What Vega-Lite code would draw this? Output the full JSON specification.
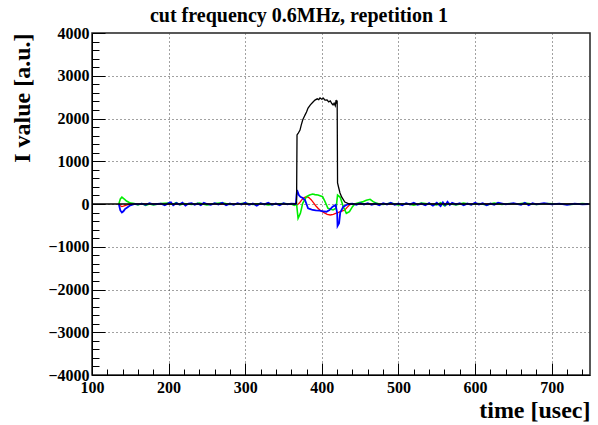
{
  "$schema": "https://vega.github.io/schema/vega-lite/v6.json",
  "width": 498,
  "height": 342,
  "autosize": {"type": "none"},
  "padding": {"left": 92, "top": 33, "right": 8, "bottom": 50},
  "background": "white",
  "title": {
    "text": "cut frequency 0.6MHz, repetition 1",
    "font": "Liberation Serif",
    "fontWeight": "bold",
    "fontSize": 20,
    "anchor": "middle",
    "dx": -42,
    "offset": -1,
    "color": "black"
  },
  "config": {
    "view": {"stroke": "#222", "strokeWidth": 1.5},
    "axis": {
      "labelFont": "Liberation Serif",
      "labelFontWeight": "bold",
      "labelFontSize": 16,
      "labelColor": "black",
      "titleFont": "Liberation Serif",
      "titleFontWeight": "bold",
      "titleFontSize": 24,
      "titleColor": "black",
      "domainColor": "black",
      "domainWidth": 1,
      "tickColor": "black",
      "tickWidth": 1,
      "gridColor": "#444",
      "gridDash": [1, 3],
      "gridWidth": 1
    }
  },
  "data": {
    "values": [
      {"s": "black", "t": 100, "v": 0},
      {"s": "black", "t": 365, "v": 0},
      {"s": "black", "t": 367, "v": 20},
      {"s": "black", "t": 367.6, "v": 1614},
      {"s": "black", "t": 369, "v": 1650},
      {"s": "black", "t": 371.5, "v": 1730},
      {"s": "black", "t": 373, "v": 1840},
      {"s": "black", "t": 375, "v": 1965},
      {"s": "black", "t": 378, "v": 2080},
      {"s": "black", "t": 380, "v": 2150},
      {"s": "black", "t": 382, "v": 2245},
      {"s": "black", "t": 385, "v": 2320},
      {"s": "black", "t": 388.5, "v": 2386},
      {"s": "black", "t": 391, "v": 2430},
      {"s": "black", "t": 394, "v": 2460},
      {"s": "black", "t": 396, "v": 2440},
      {"s": "black", "t": 397.6, "v": 2480},
      {"s": "black", "t": 400, "v": 2450},
      {"s": "black", "t": 402, "v": 2475},
      {"s": "black", "t": 404, "v": 2430},
      {"s": "black", "t": 406.8, "v": 2433},
      {"s": "black", "t": 409, "v": 2390},
      {"s": "black", "t": 411, "v": 2410},
      {"s": "black", "t": 413, "v": 2350},
      {"s": "black", "t": 414.6, "v": 2316},
      {"s": "black", "t": 416, "v": 2360},
      {"s": "black", "t": 417.5, "v": 2300},
      {"s": "black", "t": 418.6, "v": 2433},
      {"s": "black", "t": 419.5, "v": 2350},
      {"s": "black", "t": 420, "v": 2420},
      {"s": "black", "t": 420.5, "v": 491},
      {"s": "black", "t": 422, "v": 380},
      {"s": "black", "t": 423.7, "v": 257},
      {"s": "black", "t": 426, "v": 160},
      {"s": "black", "t": 430, "v": 47},
      {"s": "black", "t": 436, "v": 0},
      {"s": "black", "t": 750, "v": 0},

      {"s": "red", "t": 135, "v": 0},
      {"s": "red", "t": 137, "v": -40},
      {"s": "red", "t": 139, "v": -60},
      {"s": "red", "t": 141, "v": -50},
      {"s": "red", "t": 144, "v": -30},
      {"s": "red", "t": 148, "v": -10},
      {"s": "red", "t": 152, "v": 0},
      {"s": "red", "t": 250, "v": 0},
      {"s": "red", "t": 365, "v": 0},
      {"s": "red", "t": 368, "v": -20},
      {"s": "red", "t": 371, "v": 30},
      {"s": "red", "t": 374, "v": 100},
      {"s": "red", "t": 377, "v": 150},
      {"s": "red", "t": 380, "v": 171},
      {"s": "red", "t": 383, "v": 150},
      {"s": "red", "t": 386, "v": 100},
      {"s": "red", "t": 389, "v": 30},
      {"s": "red", "t": 392, "v": -40},
      {"s": "red", "t": 395, "v": -100},
      {"s": "red", "t": 398, "v": -150},
      {"s": "red", "t": 401, "v": -185},
      {"s": "red", "t": 404, "v": -215},
      {"s": "red", "t": 407, "v": -240},
      {"s": "red", "t": 411, "v": -257},
      {"s": "red", "t": 415, "v": -240},
      {"s": "red", "t": 418, "v": -220},
      {"s": "red", "t": 420, "v": -210},
      {"s": "red", "t": 424, "v": -180},
      {"s": "red", "t": 427, "v": -160},
      {"s": "red", "t": 430, "v": -140},
      {"s": "red", "t": 433, "v": -80},
      {"s": "red", "t": 436, "v": -23},
      {"s": "red", "t": 440, "v": 0},
      {"s": "red", "t": 600, "v": 0},
      {"s": "red", "t": 748, "v": 0},

      {"s": "green", "t": 135, "v": 0},
      {"s": "green", "t": 137, "v": 120},
      {"s": "green", "t": 139, "v": 160},
      {"s": "green", "t": 141, "v": 130},
      {"s": "green", "t": 143, "v": 100},
      {"s": "green", "t": 145, "v": 70},
      {"s": "green", "t": 148, "v": 40},
      {"s": "green", "t": 151, "v": 20},
      {"s": "green", "t": 155, "v": 10},
      {"s": "green", "t": 160, "v": -20},
      {"s": "green", "t": 165, "v": 10},
      {"s": "green", "t": 170, "v": -30},
      {"s": "green", "t": 175, "v": 0},
      {"s": "green", "t": 180, "v": -20},
      {"s": "green", "t": 190, "v": 10},
      {"s": "green", "t": 200, "v": 20},
      {"s": "green", "t": 205, "v": -10},
      {"s": "green", "t": 210, "v": 30},
      {"s": "green", "t": 215, "v": -20},
      {"s": "green", "t": 220, "v": 10},
      {"s": "green", "t": 230, "v": -10},
      {"s": "green", "t": 240, "v": 20},
      {"s": "green", "t": 250, "v": -20},
      {"s": "green", "t": 260, "v": 10},
      {"s": "green", "t": 270, "v": 30},
      {"s": "green", "t": 280, "v": -10},
      {"s": "green", "t": 290, "v": 0},
      {"s": "green", "t": 300, "v": 20},
      {"s": "green", "t": 310, "v": -10},
      {"s": "green", "t": 320, "v": 10},
      {"s": "green", "t": 330, "v": -20},
      {"s": "green", "t": 340, "v": 0},
      {"s": "green", "t": 350, "v": 10},
      {"s": "green", "t": 360, "v": 0},
      {"s": "green", "t": 364, "v": -30},
      {"s": "green", "t": 367, "v": 0},
      {"s": "green", "t": 369, "v": -335},
      {"s": "green", "t": 372, "v": -218},
      {"s": "green", "t": 375, "v": 15},
      {"s": "green", "t": 380, "v": 171},
      {"s": "green", "t": 384, "v": 210},
      {"s": "green", "t": 388, "v": 234},
      {"s": "green", "t": 391, "v": 220},
      {"s": "green", "t": 395, "v": 210},
      {"s": "green", "t": 401, "v": 171},
      {"s": "green", "t": 404, "v": 60},
      {"s": "green", "t": 408, "v": -100},
      {"s": "green", "t": 414.6, "v": -140},
      {"s": "green", "t": 418.6, "v": -100},
      {"s": "green", "t": 420.5, "v": 210},
      {"s": "green", "t": 424, "v": 156},
      {"s": "green", "t": 428, "v": -62},
      {"s": "green", "t": 432, "v": -218},
      {"s": "green", "t": 436, "v": -180},
      {"s": "green", "t": 440, "v": -62},
      {"s": "green", "t": 443, "v": 0},
      {"s": "green", "t": 448, "v": 30},
      {"s": "green", "t": 453, "v": 50},
      {"s": "green", "t": 458, "v": 90},
      {"s": "green", "t": 463, "v": 109},
      {"s": "green", "t": 467, "v": 55},
      {"s": "green", "t": 471, "v": 20},
      {"s": "green", "t": 475, "v": 0},
      {"s": "green", "t": 480, "v": -10},
      {"s": "green", "t": 490, "v": 20},
      {"s": "green", "t": 500, "v": -20},
      {"s": "green", "t": 510, "v": 10},
      {"s": "green", "t": 520, "v": -30},
      {"s": "green", "t": 530, "v": 20},
      {"s": "green", "t": 540, "v": 0},
      {"s": "green", "t": 550, "v": -20},
      {"s": "green", "t": 555, "v": 30},
      {"s": "green", "t": 560, "v": -40},
      {"s": "green", "t": 566, "v": 10},
      {"s": "green", "t": 575, "v": -20},
      {"s": "green", "t": 585, "v": 20},
      {"s": "green", "t": 595, "v": -10},
      {"s": "green", "t": 605, "v": 10},
      {"s": "green", "t": 615, "v": -20},
      {"s": "green", "t": 625, "v": 20},
      {"s": "green", "t": 635, "v": -10},
      {"s": "green", "t": 645, "v": 10},
      {"s": "green", "t": 655, "v": 0},
      {"s": "green", "t": 665, "v": 20},
      {"s": "green", "t": 680, "v": -10},
      {"s": "green", "t": 695, "v": 10},
      {"s": "green", "t": 710, "v": 0},
      {"s": "green", "t": 725, "v": -10},
      {"s": "green", "t": 740, "v": 10},
      {"s": "green", "t": 748, "v": 0},

      {"s": "blue", "t": 135, "v": 0},
      {"s": "blue", "t": 137, "v": -150},
      {"s": "blue", "t": 139, "v": -200},
      {"s": "blue", "t": 141, "v": -170},
      {"s": "blue", "t": 143, "v": -120},
      {"s": "blue", "t": 146, "v": -80},
      {"s": "blue", "t": 149, "v": -40},
      {"s": "blue", "t": 152, "v": -20},
      {"s": "blue", "t": 156, "v": 0},
      {"s": "blue", "t": 160, "v": -10},
      {"s": "blue", "t": 165, "v": 10},
      {"s": "blue", "t": 170, "v": -20},
      {"s": "blue", "t": 175, "v": 20},
      {"s": "blue", "t": 180, "v": -10},
      {"s": "blue", "t": 185, "v": 0},
      {"s": "blue", "t": 190, "v": 10},
      {"s": "blue", "t": 195, "v": -30},
      {"s": "blue", "t": 200, "v": 20},
      {"s": "blue", "t": 203, "v": 40},
      {"s": "blue", "t": 206, "v": -30},
      {"s": "blue", "t": 210, "v": 20},
      {"s": "blue", "t": 214, "v": -10},
      {"s": "blue", "t": 218, "v": 30},
      {"s": "blue", "t": 222, "v": -40},
      {"s": "blue", "t": 226, "v": 10},
      {"s": "blue", "t": 230, "v": 20},
      {"s": "blue", "t": 234, "v": -20},
      {"s": "blue", "t": 238, "v": 10},
      {"s": "blue", "t": 242, "v": -30},
      {"s": "blue", "t": 246, "v": 30},
      {"s": "blue", "t": 250, "v": 0},
      {"s": "blue", "t": 255, "v": -20},
      {"s": "blue", "t": 260, "v": 20},
      {"s": "blue", "t": 265, "v": -10},
      {"s": "blue", "t": 270, "v": 30},
      {"s": "blue", "t": 275, "v": -30},
      {"s": "blue", "t": 280, "v": 10},
      {"s": "blue", "t": 285, "v": -20},
      {"s": "blue", "t": 290, "v": 20},
      {"s": "blue", "t": 295, "v": -10},
      {"s": "blue", "t": 300, "v": 30},
      {"s": "blue", "t": 305, "v": -20},
      {"s": "blue", "t": 310, "v": 10},
      {"s": "blue", "t": 315, "v": -40},
      {"s": "blue", "t": 320, "v": 20},
      {"s": "blue", "t": 325, "v": -10},
      {"s": "blue", "t": 330, "v": 30},
      {"s": "blue", "t": 335, "v": -20},
      {"s": "blue", "t": 340, "v": 10},
      {"s": "blue", "t": 345, "v": -30},
      {"s": "blue", "t": 350, "v": 20},
      {"s": "blue", "t": 355, "v": -10},
      {"s": "blue", "t": 360, "v": 10},
      {"s": "blue", "t": 366, "v": 0},
      {"s": "blue", "t": 367.6, "v": 327},
      {"s": "blue", "t": 370, "v": 210},
      {"s": "blue", "t": 372, "v": 170},
      {"s": "blue", "t": 375, "v": 140},
      {"s": "blue", "t": 378, "v": 94},
      {"s": "blue", "t": 382, "v": -100},
      {"s": "blue", "t": 385, "v": -120},
      {"s": "blue", "t": 388, "v": -140},
      {"s": "blue", "t": 392, "v": -150},
      {"s": "blue", "t": 397, "v": -156},
      {"s": "blue", "t": 402, "v": -170},
      {"s": "blue", "t": 406, "v": -180},
      {"s": "blue", "t": 410, "v": -140},
      {"s": "blue", "t": 414, "v": -62},
      {"s": "blue", "t": 418, "v": -23},
      {"s": "blue", "t": 420, "v": -210},
      {"s": "blue", "t": 420.5, "v": -515},
      {"s": "blue", "t": 422.5, "v": -450},
      {"s": "blue", "t": 424, "v": -200},
      {"s": "blue", "t": 428, "v": -62},
      {"s": "blue", "t": 432, "v": -23},
      {"s": "blue", "t": 436, "v": 0},
      {"s": "blue", "t": 440, "v": 10},
      {"s": "blue", "t": 445, "v": -20},
      {"s": "blue", "t": 450, "v": 20},
      {"s": "blue", "t": 455, "v": -10},
      {"s": "blue", "t": 460, "v": 20},
      {"s": "blue", "t": 465, "v": -20},
      {"s": "blue", "t": 470, "v": 10},
      {"s": "blue", "t": 475, "v": -30},
      {"s": "blue", "t": 480, "v": 20},
      {"s": "blue", "t": 485, "v": -10},
      {"s": "blue", "t": 490, "v": 30},
      {"s": "blue", "t": 495, "v": -20},
      {"s": "blue", "t": 500, "v": 10},
      {"s": "blue", "t": 505, "v": -30},
      {"s": "blue", "t": 510, "v": 20},
      {"s": "blue", "t": 515, "v": -10},
      {"s": "blue", "t": 520, "v": 30},
      {"s": "blue", "t": 525, "v": -20},
      {"s": "blue", "t": 530, "v": 10},
      {"s": "blue", "t": 535, "v": -30},
      {"s": "blue", "t": 540, "v": 20},
      {"s": "blue", "t": 545, "v": -40},
      {"s": "blue", "t": 550, "v": 30},
      {"s": "blue", "t": 555, "v": -50},
      {"s": "blue", "t": 558, "v": 40},
      {"s": "blue", "t": 561, "v": -30},
      {"s": "blue", "t": 564, "v": 50},
      {"s": "blue", "t": 567, "v": -20},
      {"s": "blue", "t": 570, "v": 30},
      {"s": "blue", "t": 575, "v": -10},
      {"s": "blue", "t": 580, "v": 20},
      {"s": "blue", "t": 585, "v": -30},
      {"s": "blue", "t": 590, "v": 10},
      {"s": "blue", "t": 595, "v": -20},
      {"s": "blue", "t": 600, "v": 30},
      {"s": "blue", "t": 605, "v": -10},
      {"s": "blue", "t": 610, "v": 20},
      {"s": "blue", "t": 615, "v": -30},
      {"s": "blue", "t": 620, "v": 10},
      {"s": "blue", "t": 625, "v": -20},
      {"s": "blue", "t": 630, "v": 30},
      {"s": "blue", "t": 640, "v": -10},
      {"s": "blue", "t": 650, "v": 20},
      {"s": "blue", "t": 660, "v": -20},
      {"s": "blue", "t": 665, "v": 30},
      {"s": "blue", "t": 670, "v": -30},
      {"s": "blue", "t": 675, "v": 20},
      {"s": "blue", "t": 680, "v": -10},
      {"s": "blue", "t": 690, "v": 20},
      {"s": "blue", "t": 700, "v": -10},
      {"s": "blue", "t": 710, "v": 10},
      {"s": "blue", "t": 720, "v": -20},
      {"s": "blue", "t": 730, "v": 10},
      {"s": "blue", "t": 740, "v": -10},
      {"s": "blue", "t": 748, "v": 0}
    ]
  },
  "encoding": {
    "x": {
      "field": "t",
      "type": "quantitative",
      "scale": {"domain": [100, 750], "nice": false, "zero": false},
      "axis": {
        "title": "time [usec]",
        "values": [100,120,140,160,180,200,220,240,260,280,300,320,340,360,380,400,420,440,460,480,500,520,540,560,580,600,620,640,660,680,700,720,740],
        "format": "d",
        "labelExpr": "datum.value % 100 === 0 ? datum.label : ''",
        "labelFlush": false,
        "labelOverlap": false,
        "tickSize": {"condition": {"test": "datum.value % 100 === 0", "value": -12}, "value": -6},
        "labelPadding": 16,
        "gridOpacity": {"condition": {"test": "datum.value % 100 === 0 && datum.value > 100", "value": 1}, "value": 0},
        "titleAnchor": "end",
        "titleAlign": "right",
        "titleBaseline": "alphabetic",
        "titleX": 498,
        "titleY": 42
      }
    },
    "y": {
      "field": "v",
      "type": "quantitative",
      "scale": {"domain": [-4000, 4000], "nice": false},
      "axis": {
        "title": "I value [a.u.]",
        "values": [-4000,-3800,-3600,-3400,-3200,-3000,-2800,-2600,-2400,-2200,-2000,-1800,-1600,-1400,-1200,-1000,-800,-600,-400,-200,0,200,400,600,800,1000,1200,1400,1600,1800,2000,2200,2400,2600,2800,3000,3200,3400,3600,3800,4000],
        "format": "d",
        "labelExpr": "datum.value % 1000 === 0 ? datum.label : ''",
        "labelFlush": false,
        "labelOverlap": false,
        "tickSize": {"condition": {"test": "datum.value % 1000 === 0", "value": -13}, "value": -7},
        "labelPadding": 16,
        "gridOpacity": {"condition": {"test": "datum.value % 1000 === 0 && abs(datum.value) < 4000", "value": 1}, "value": 0},
        "titleAnchor": "end",
        "titleAlign": "right",
        "titleAngle": -90,
        "titleBaseline": "bottom",
        "titleX": -58,
        "titleY": 0
      }
    }
  },
  "layer": [
    {"transform": [{"filter": "datum.s === 'red'"}], "mark": {"type": "line", "color": "#ff0000", "strokeWidth": 1.3}},
    {"transform": [{"filter": "datum.s === 'green'"}], "mark": {"type": "line", "color": "#00ee00", "strokeWidth": 1.6}},
    {"transform": [{"filter": "datum.s === 'blue'"}], "mark": {"type": "line", "color": "#0000ff", "strokeWidth": 1.8}},
    {"transform": [{"filter": "datum.s === 'black'"}], "mark": {"type": "line", "color": "#000000", "strokeWidth": 1.3}}
  ]
}
